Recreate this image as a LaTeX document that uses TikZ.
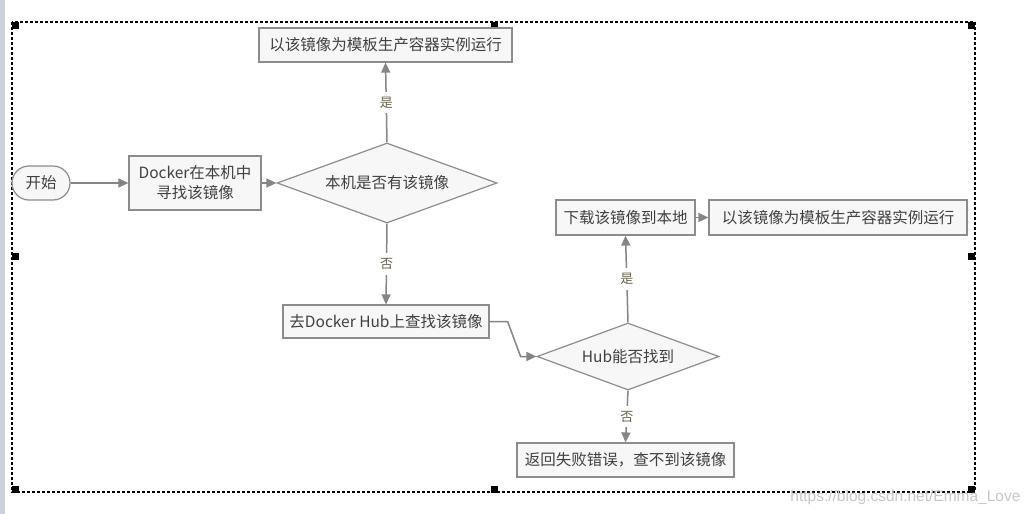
\documentclass[tikz,border=0pt]{standalone}
\usepackage{fontspec}
\usepackage{tikz}
\usetikzlibrary{shapes.geometric,arrows.meta}
\setmainfont{Noto Sans CJK SC}
\newfontfamily\wmfont{Liberation Sans}
\definecolor{linegray}{HTML}{858585}
\definecolor{boxline}{HTML}{8C8C8C}
\definecolor{boxfill}{HTML}{F7F7F7}
\definecolor{textgray}{HTML}{404040}
\definecolor{labelgray}{HTML}{6A6252}
\definecolor{sidebar}{HTML}{CDD1DB}

\tikzset{
  procbox/.style={draw=boxline, fill=boxfill, line width=1.2pt, text=textgray,
    font=\fontsize{15.5}{20}\selectfont, inner sep=0pt, align=center},
  decision/.style={diamond, draw=boxline, fill=boxfill, line width=1.2pt, text=textgray,
    font=\fontsize{15.5}{20}\selectfont, inner sep=0pt, shape aspect=2.75},
  startnode/.style={draw=boxline, fill=boxfill, line width=1.2pt, text=textgray,
    font=\fontsize{15.5}{20}\selectfont, rounded corners=17pt, inner sep=0pt},
  flow/.style={draw=linegray, line width=1.5pt, -{Triangle[length=10pt,width=9pt]}},
  yesno/.style={midway, fill=white, text=labelgray, font=\fontsize{13}{15}\selectfont,
    inner xsep=1pt, inner ysep=5pt}
}

\begin{document}
\begin{tikzpicture}[x=1pt,y=-1pt]
	% kuvan rajat
	\useasboundingbox (0,0) rectangle (1034,514);
	\fill[white] (0,0) rectangle (1034,514);
	\fill[sidebar] (0,0) rectangle (5,514);  % ikkunan reuna

	% valintakehys
	\draw[line width=1.2pt, dash pattern=on 3pt off 2pt] (12,22) rectangle (975,492);
	\fill (11.5,21.5) rectangle ++(7,7);
	\fill (490.5,21.5) rectangle ++(7,7);
	\fill (967.5,21.5) rectangle ++(7,7);
	\fill (11.5,252.5) rectangle ++(7,7);
	\fill (967.5,252.5) rectangle ++(7,7);
	\fill (11.5,485.5) rectangle ++(7,7);
	\fill (490.5,485.5) rectangle ++(7,7);
	\fill (967.5,485.5) rectangle ++(7,7);

	% solmut
	\node[startnode, minimum width=58, minimum height=34] (start) at (41,183) {开始};
	\node[procbox, minimum width=132, minimum height=54] (search) at (195,183) {Docker在本机中\\寻找该镜像};
	\node[decision, minimum width=220, minimum height=80] (local) at (387,183) {本机是否有该镜像};
	\node[procbox, minimum width=253, minimum height=34] (runlocal) at (385.5,45) {以该镜像为模板生产容器实例运行};
	\node[procbox, minimum width=206, minimum height=33] (hubsearch) at (386,321.5) {去Docker Hub上查找该镜像};
	\node[decision, minimum width=182, minimum height=67] (hub) at (628,356.5) {Hub能否找到};
	\node[procbox, minimum width=139, minimum height=35] (pull) at (625.5,217.5) {下载该镜像到本地};
	\node[procbox, minimum width=258, minimum height=35] (runpulled) at (838,217.5) {以该镜像为模板生产容器实例运行};
	\node[procbox, minimum width=217, minimum height=34] (fail) at (625.5,460) {返回失败错误，查不到该镜像};

	% nuolet
	\draw[flow] (start) -- (search);
	\draw[flow] (search) -- (local);
	\draw[flow] (local.north) -- node[yesno] {是} (runlocal.south);
	\draw[flow] (local.south) -- node[yesno] {否} (hubsearch.north);
	\draw[flow] (hubsearch.east) -- ++(18,0) -- ++(13,35) -- (hub.west);
	\draw[flow] (hub.north) -- node[yesno] {是} (pull.south);
	\draw[flow] (pull) -- (runpulled);
	\draw[flow] (hub.south) -- node[yesno] {否} (fail.north);

	% vesileima
	\node[text=black!22, font=\wmfont\fontsize{15.5}{18}\selectfont, anchor=east] (mark) at (1024,497) {https://blog.csdn.net/Emma\_Love};
\end{tikzpicture}
\end{document}
